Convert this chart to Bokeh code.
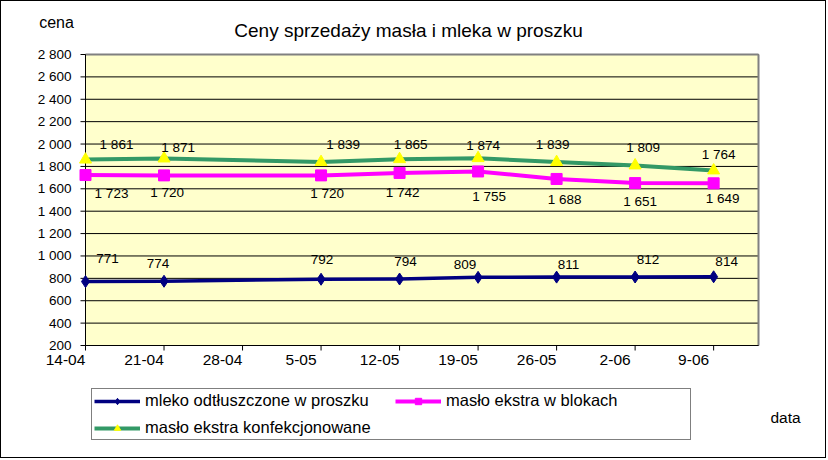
from datetime import date
from bokeh.plotting import figure
from bokeh.models import (Range1d, FixedTicker, LinearAxis, Legend, LegendItem,
                          ColumnDataSource, Label)
from bokeh.core.properties import value
from bokeh.embed import file_html
from bokeh.resources import INLINE

# ---------------- data ----------------
dates = ["14-04", "21-04", "5-05", "12-05", "19-05", "26-05", "2-06", "9-06"]
x_tick_labels = ["14-04", "21-04", "28-04", "5-05", "12-05", "19-05", "26-05", "2-06", "9-06"]
mleko = [771, 774, 792, 794, 809, 811, 812, 814]
maslo_bloki = [1723, 1720, 1720, 1742, 1755, 1688, 1651, 1649]
maslo_konf = [1861, 1871, 1839, 1865, 1874, 1839, 1809, 1764]
y_ticks = [200, 400, 600, 800, 1000, 1200, 1400, 1600, 1800, 2000, 2200, 2400, 2600, 2800]
y_tick_labels = ["200", "400", "600", "800", "1 000", "1 200", "1 400", "1 600",
                 "1 800", "2 000", "2 200", "2 400", "2 600", "2 800"]
series_names = ["mleko odtłuszczone w proszku", "masło ekstra w blokach",
                "masło ekstra konfekcjonowane"]
title_text = "Ceny sprzedaży masła i mleka w proszku"
y_title = "cena"
x_title = "data"

# label offsets (pixels, style only)
off_mleko = [(22, -23), (-6, -18), (1, -20), (6, -18), (-13, -13), (12, -13), (13, -18), (13, -15)]
off_bloki = [(26, 18), (3, 17), (6, 18), (3, 20), (11, 25), (8, 21), (5, 18), (9, 15)]
off_konf = [(31, -15), (14, -11), (22, -18), (11, -15), (5, -13), (-4, -18), (8, -18), (5, -16)]

FONT = "Liberation Sans"

def day_of(s):
    d, m = s.split("-")
    return (date(2008, int(m), int(d)) - date(2008, 4, 14)).days

xd = [day_of(s) for s in dates]
tick_days = [day_of(s) for s in x_tick_labels]
X_MAX = 60          # plot area spans 14-04 .. 13-06
Y_MIN, Y_MAX = 200, 2800

def fmt(v):
    return f"{v:,}".replace(",", " ")

# ---------------- layout (canvas pixels) ----------------
W, H = 826, 458
PLOT_L, PLOT_R, PLOT_T, PLOT_B = 84, 757, 53, 344     # where the plot area sits
FRAME_B = 440                                          # frame covers the canvas above the x labels strip
ppd = (PLOT_R - PLOT_L) / X_MAX
ppu = (PLOT_B - PLOT_T) / (Y_MAX - Y_MIN)
x_start = -PLOT_L / ppd
x_end = X_MAX + (W - PLOT_R) / ppd
y_start = Y_MIN - (FRAME_B - PLOT_B) / ppu
y_end = Y_MAX + PLOT_T / ppu

def ypx(canvas_y):       # data y of a canvas row (layout helper)
    return Y_MAX + (PLOT_T - canvas_y) / ppu

TICK = 5
tick_dx = TICK / ppd
tick_dy = TICK / ppu

p = figure(width=W, height=H, x_range=Range1d(x_start, x_end), y_range=Range1d(y_start, y_end),
           output_backend="svg", toolbar_location=None,
           x_axis_location=None, y_axis_location=None,
           min_border_left=0, min_border_right=0,
           min_border_top=0, min_border_bottom=H - FRAME_B)
p.styles = {"border": "1px solid black"}
p.background_fill_color = "white"
p.border_fill_color = "white"
p.outline_line_color = None
p.grid.visible = False

# plot area, grid and border
n = len(y_ticks)
p.quad(left=[0], right=[X_MAX], bottom=[Y_MIN], top=[Y_MAX], fill_color="#FFFFCC", line_color=None)
p.segment(x0=[0] * n, x1=[X_MAX] * n, y0=y_ticks, y1=y_ticks, line_color="black", line_width=1)
p.segment(x0=[0, X_MAX], x1=[X_MAX, X_MAX], y0=[Y_MAX, Y_MIN], y1=[Y_MAX, Y_MAX],
          line_color="#808080", line_width=2)
# axis lines and tick marks
p.segment(x0=[0, 0], x1=[0, X_MAX], y0=[Y_MIN, Y_MIN], y1=[Y_MAX, Y_MIN], line_color="black", line_width=1)
p.segment(x0=[-tick_dx] * n, x1=[0] * n, y0=y_ticks, y1=y_ticks, line_color="black", line_width=1)
p.segment(x0=tick_days, x1=tick_days, y0=[Y_MIN] * len(tick_days), y1=[Y_MIN - tick_dy] * len(tick_days),
          line_color="black", line_width=1)

# y tick labels
p.text(x=[0] * n, y=y_ticks, text=y_tick_labels, x_offset=-(PLOT_L - 70),
       text_align="right", text_baseline="middle", text_font=value(FONT),
       text_font_size="13.5px", text_color="black")

# x axis labels (Excel draws them shifted left of the ticks)
shift = 20 / ppd
p.extra_x_ranges = {"lbl": Range1d(x_start + shift, x_end + shift)}
la = LinearAxis(x_range_name="lbl", fixed_location=ypx(353), ticker=FixedTicker(ticks=tick_days),
                major_label_overrides={t: l for t, l in zip(tick_days, x_tick_labels)})
la.axis_line_color = None
la.major_tick_line_color = None
la.minor_tick_line_color = None
la.major_tick_out = 0
la.major_tick_in = 0
la.major_label_standoff = 0
la.major_label_text_font = FONT
la.major_label_text_font_size = "15.5px"
la.major_label_text_color = "black"
p.add_layout(la, "below")

# series
specs = [
    (mleko, "#000080", "diamond", "#000080", 12, off_mleko, 3.5),
    (maslo_bloki, "#FF00FF", "square", "#FF00FF", 11, off_bloki, 4),
    (maslo_konf, "#339966", "triangle", "#FFFF00", 12, off_konf, 4),
]
items = []
for (vals, lc, mk, mc, ms, offs, lw), name in zip(specs, series_names):
    src = ColumnDataSource(dict(x=xd, y=vals, t=[fmt(v) for v in vals],
                                dx=[o[0] for o in offs], dy=[o[1] for o in offs]))
    lr = p.line("x", "y", source=src, line_color=lc, line_width=lw, line_join="round")
    sr = p.scatter("x", "y", source=src, marker=mk, size=ms, fill_color=mc, line_color=mc)
    p.text("x", "y", text="t", source=src, x_offset="dx", y_offset="dy",
           text_align="center", text_baseline="middle", text_font=value(FONT),
           text_font_size="13.5px", text_color="black")
    items.append(LegendItem(label=name, renderers=[lr, sr]))

legend = Legend(items=items, location=(90, 1), orientation="horizontal", ncols=2,
                padding=2, spacing=8, glyph_width=46, glyph_height=16, label_width=242,
                label_standoff=5, margin=0,
                label_text_font=FONT, label_text_font_size="16.5px", label_text_color="black",
                border_line_color="black", border_line_width=1, background_fill_color="white",
                background_fill_alpha=1)
p.add_layout(legend, "center")

# title and axis captions
p.add_layout(Label(x=407, y=FRAME_B - 29, x_units="screen", y_units="screen",
                   text=title_text, text_align="center", text_baseline="middle",
                   text_font=FONT, text_font_size="19px", text_color="black"))
p.add_layout(Label(x=55, y=FRAME_B - 21, x_units="screen", y_units="screen",
                   text=y_title, text_align="center", text_baseline="middle",
                   text_font=FONT, text_font_size="16px", text_color="black"))
p.add_layout(Label(x=784, y=FRAME_B - 416, x_units="screen", y_units="screen",
                   text=x_title, text_align="center", text_baseline="middle",
                   text_font=FONT, text_font_size="15.5px", text_color="black"))

open("out.html", "w").write(file_html(p, INLINE))
